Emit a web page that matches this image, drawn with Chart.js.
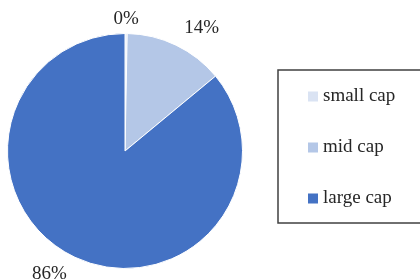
<!DOCTYPE html>
<html><head><meta charset="utf-8">
<script src="https://cdn.jsdelivr.net/npm/chart.js@4"></script>
<style>html,body{margin:0;padding:0;background:#fff}#w{width:420px;height:280px}</style>
</head><body><div id="w"><canvas id="c"></canvas></div>
<script>
const categories = ["small cap", "mid cap", "large cap"];
const shares = [0.3, 13.7, 86.0];
const percentLabels = ["0%", "14%", "86%"];
const colors = ["#DAE3F3", "#B4C7E7", "#4472C4"];
const FONT = '"Liberation Serif", "DejaVu Serif", serif';

const labelPlugin = {
  id: 'outLabels',
  afterDatasetsDraw(chart) {
    const ctx = chart.ctx;
    const meta = chart.getDatasetMeta(0);
    ctx.save();
    ctx.font = '19px ' + FONT;
    ctx.fillStyle = '#262626';
    ctx.textBaseline = 'middle';
    meta.data.forEach((arc, i) => {
      const p = arc.getProps(['x','y','startAngle','endAngle','outerRadius'], true);
      const a = (p.startAngle + p.endAngle) / 2;
      const c = Math.cos(a);
      const d = p.outerRadius + (Math.abs(c) > 0.1 ? 19 : 14);
      const x = p.x + Math.cos(a) * d, y = p.y + Math.sin(a) * d;
      ctx.textAlign = c > 0.1 ? 'left' : (c < -0.1 ? 'right' : 'center');
      ctx.fillText(percentLabels[i], x, y);
    });
    ctx.restore();
  }
};

const legendPlugin = {
  id: 'boxLegend',
  afterDraw(chart) {
    const ctx = chart.ctx;
    const ca = chart.chartArea;
    const left = ca.right + 35, top = 70, bottom = 223;
    ctx.save();
    ctx.strokeStyle = '#404040';
    ctx.lineWidth = 1.5;
    ctx.strokeRect(left, top, chart.width - left + 5, bottom - top);
    ctx.font = '19px ' + FONT;
    ctx.textBaseline = 'middle';
    ctx.textAlign = 'left';
    const step = (bottom - top) / categories.length;
    categories.forEach((name, i) => {
      const cy = top + step * (i + 0.5) + 1;
      ctx.fillStyle = colors[i];
      ctx.fillRect(left + 30, cy - 5, 10, 10);
      ctx.fillStyle = '#262626';
      ctx.fillText(name, left + 45, cy);
    });
    ctx.restore();
  }
};

new Chart(document.getElementById('c'), {
  type: 'pie',
  data: { labels: categories, datasets: [{ data: shares, backgroundColor: colors, borderColor: '#ffffff', borderWidth: 1 }] },
  options: {
    responsive: true, maintainAspectRatio: false, animation: false,
    layout: { padding: { top: 33, bottom: 11, left: 7, right: 177 } },
    plugins: { legend: { display: false }, tooltip: { enabled: false } }
  },
  plugins: [labelPlugin, legendPlugin]
});
</script></body></html>
